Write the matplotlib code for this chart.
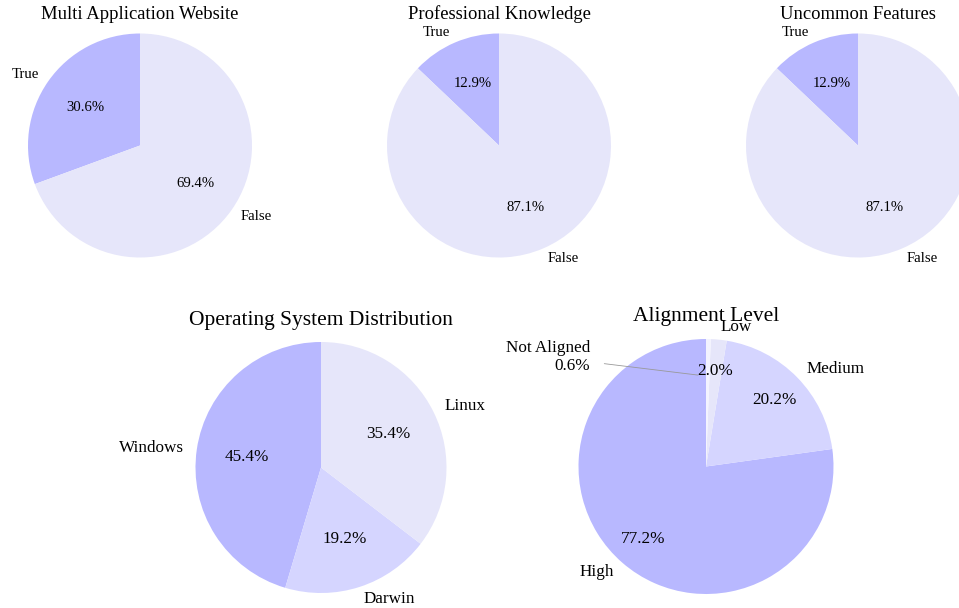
import matplotlib
matplotlib.use("Agg")
import matplotlib.pyplot as plt

plt.rcParams["font.family"] = ["Liberation Serif", "DejaVu Serif"]

# data (percent shares)
bool_labels = ["True", "False"]
multi_app = [30.6, 69.4]
prof_knowledge = [12.9, 87.1]
uncommon = [12.9, 87.1]

os_labels = ["Windows", "Darwin", "Linux"]
os_share = [45.4, 19.2, 35.4]

align_labels = ["High", "Medium", "Low", "Not Aligned"]
align_share = [77.2, 20.2, 2.0, 0.6]

DARK = "#b8b8ff"
MID = "#d5d5ff"
LIGHT = "#e6e6fa"
PALE = "#f3f3ff"

W, H = 959, 608
fig = plt.figure(figsize=(W / 100, H / 100), dpi=100)


def pie_axes(cx, cy, r):
    # place a square axes so the pie of radius r px is centred at (cx, cy) px
    return fig.add_axes([(cx - r) / W, (H - cy - r) / H, 2 * r / W, 2 * r / H])


def finish(ax):
    ax.set_xlim(-1, 1)
    ax.set_ylim(-1, 1)
    ax.set_aspect("equal")
    ax.axis("off")


# top row
top = [("Multi Application Website", multi_app, 140),
       ("Professional Knowledge", prof_knowledge, 499),
       ("Uncommon Features", uncommon, 858)]
for title, vals, cx in top:
    ax = pie_axes(cx, 145.5, 112)
    ax.pie(vals, labels=bool_labels, colors=[DARK, LIGHT], autopct="%1.1f%%",
           startangle=90, textprops={"fontsize": 10.6})
    finish(ax)
    ax.set_title(title, fontsize=13.4, pad=10.7)

# operating system
ax = pie_axes(321, 467.5, 125.5)
ax.pie(os_share, labels=os_labels, colors=[DARK, MID, LIGHT], autopct="%1.1f%%",
       startangle=90, textprops={"fontsize": 12.3})
finish(ax)
ax.set_title("Operating System Distribution", fontsize=15.5, pad=12)

# alignment level
ax = pie_axes(706, 466.5, 127.5)
wedges, texts, autotexts = ax.pie(align_share, labels=align_labels,
                                  colors=[DARK, MID, LIGHT, PALE],
                                  autopct="%1.1f%%", startangle=90, pctdistance=0.75,
                                  textprops={"fontsize": 12.3})
# tiny slice gets an outside note with a leader line instead
texts[3].set_visible(False)
autotexts[3].set_visible(False)
ax.annotate("Not Aligned\n" + f"{align_share[3]:.1f}%", xy=(-0.063, 0.717),
            xytext=(-0.906, 0.86), ha="right", va="center", multialignment="right",
            fontsize=12.3, annotation_clip=False,
            arrowprops=dict(arrowstyle="-", color="#999999", lw=0.6, shrinkA=8, shrinkB=0))
finish(ax)
ax.set_title("Alignment Level", fontsize=15.5, pad=12.7)

fig.savefig("out.png", dpi=100)
